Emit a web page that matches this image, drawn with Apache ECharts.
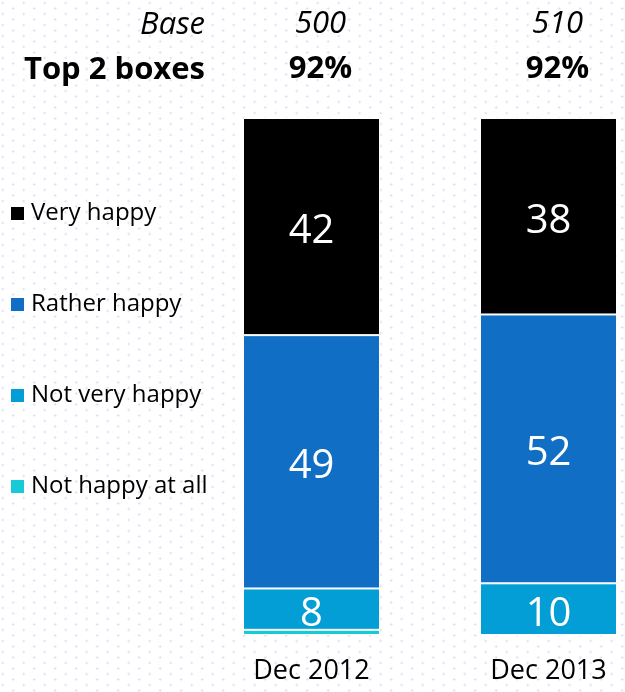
<!DOCTYPE html>
<html>
<head>
<meta charset="utf-8">
<script src="https://cdn.jsdelivr.net/npm/echarts@6/dist/echarts.min.js"></script>
<style>
  html, body { margin: 0; padding: 0; background: #ffffff; }
  #chart {
    width: 625px; height: 692px;
    background-color: #ffffff;
    background-image:
      radial-gradient(circle, #e0ddf4 0.9px, rgba(255,255,255,0) 1.4px),
      radial-gradient(circle, #e0ddf4 0.9px, rgba(255,255,255,0) 1.4px);
    background-size: 21px 11px, 21px 11px;
    background-position: -7.8px -2.5px, 2.7px 3px;
  }
</style>
</head>
<body>
<div id="chart"></div>
<script>
// Survey waves and respondent bases
const periods = ['Dec 2012', 'Dec 2013'];
const baseCounts = [500, 510];
const top2Boxes = [92, 92];

// Share of respondents per answer (%)
const veryHappy = [42, 38];
const ratherHappy = [49, 52];
const notVeryHappy = [8, 10];
const notHappyAtAll = [1, 0];

const FONT = '"Open Sans", "Liberation Sans", sans-serif';

const chart = echarts.init(document.getElementById('chart'), null, { renderer: 'canvas' });

function segment(name, data, color, showLabel) {
  return {
    name: name,
    type: 'bar',
    stack: 'total',
    data: data,
    barWidth: 137,
    clip: false,
    itemStyle: { color: color, borderColor: '#ffffff', borderWidth: 1 },
    label: {
      show: showLabel,
      position: 'inside',
      offset: [0, 5],
      color: '#ffffff',
      fontFamily: FONT,
      fontSize: 40
    },
    emphasis: { disabled: true }
  };
}

chart.setOption({
  animation: false,
  backgroundColor: 'transparent',
  textStyle: { fontFamily: FONT },
  legend: {
    orient: 'vertical',
    left: 9,
    top: 201,
    padding: 0,
    itemWidth: 15,
    itemHeight: 15,
    itemGap: 66,
    icon: 'rect',
    selectedMode: false,
    data: ['Very happy', 'Rather happy', 'Not very happy', 'Not happy at all'],
    textStyle: {
      color: '#000000',
      fontFamily: FONT,
      fontSize: 24,
      lineHeight: 25,
      padding: [0, 0, 0, 1]
    }
  },
  // category centres sit on the grid edges, bars overhang them
  grid: { left: 311.5, right: 76.5, top: 118, bottom: 57 },
  xAxis: [
    {
      type: 'category',
      data: periods,
      position: 'bottom',
      boundaryGap: false,
      axisLine: { show: false },
      axisTick: { show: false },
      axisLabel: { color: '#000000', fontFamily: FONT, fontSize: 27, margin: 23 }
    },
    {
      type: 'category',
      data: periods,
      position: 'top',
      boundaryGap: false,
      axisLine: { show: false },
      axisTick: { show: false },
      axisLabel: {
        margin: 26,
        padding: [0, 0, 0, 18],
        formatter: function (value, idx) {
          return '{b|' + baseCounts[idx] + '}\n{t|' + top2Boxes[idx] + '%}';
        },
        rich: {
          b: { fontFamily: FONT, fontStyle: 'italic', fontSize: 31, color: '#000000', lineHeight: 45 },
          t: { fontFamily: FONT, fontWeight: 'bold', fontSize: 31, color: '#000000', lineHeight: 45 }
        }
      }
    }
  ],
  yAxis: {
    type: 'value',
    min: 0,
    max: 100,
    show: false,
    splitLine: { show: false }
  },
  graphic: [
    {
      type: 'text',
      x: 205,
      y: 25,
      style: {
        text: 'Base',
        fill: '#000000',
        font: 'italic 31px ' + FONT,
        textAlign: 'right',
        textVerticalAlign: 'middle'
      }
    },
    {
      type: 'text',
      x: 205,
      y: 70,
      style: {
        text: 'Top 2 boxes',
        fill: '#000000',
        font: 'bold 31px ' + FONT,
        textAlign: 'right',
        textVerticalAlign: 'middle'
      }
    }
  ],
  series: [
    segment('Not happy at all', notHappyAtAll, '#17CAD6', false),
    segment('Not very happy', notVeryHappy, '#049ED7', true),
    segment('Rather happy', ratherHappy, '#106EC4', true),
    segment('Very happy', veryHappy, '#000000', true)
  ]
});
</script>
</body>
</html>
